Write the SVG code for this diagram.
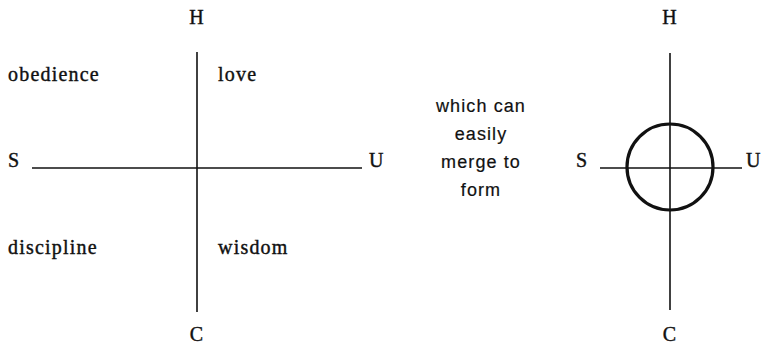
<svg xmlns="http://www.w3.org/2000/svg" width="769" height="350" viewBox="0 0 769 350">
<style>
.t{font-family:"Liberation Serif","Times New Roman",serif;font-size:20px;fill:#111;stroke:#111;stroke-width:0.4;letter-spacing:1.2px}
.m{font-family:"Liberation Sans",Arial,sans-serif;font-size:18px;fill:#111;stroke:#111;stroke-width:0.2;letter-spacing:1.1px}
.ax{stroke:#111;stroke-width:1.6;fill:none}
.c{stroke:#111;stroke-width:3.2;fill:none}
</style>
<rect width="769" height="350" fill="#fff"/>
<g id="connectors">
<line class="ax" x1="197" y1="52" x2="197" y2="312"/>
<line class="ax" x1="32" y1="168" x2="362" y2="168"/>
<line class="ax" x1="670" y1="53" x2="670" y2="310"/>
<line class="ax" x1="600" y1="168" x2="742" y2="168"/>
</g>
<g id="left-labels">
<text class="t" x="197" y="24" text-anchor="middle">H</text>
<text class="t" x="197" y="341" text-anchor="middle">C</text>
<text class="t" x="8" y="167">S</text>
<text class="t" x="369" y="167">U</text>
<text class="t" x="8" y="81">obedience</text>
<text class="t" x="218" y="81">love</text>
<text class="t" x="8" y="254">discipline</text>
<text class="t" x="218" y="254">wisdom</text>
</g>
<g id="merge-text">
<text class="m" text-anchor="middle"><tspan x="481" y="112">which can</tspan><tspan x="481" y="140">easily</tspan><tspan x="481" y="168">merge to</tspan><tspan x="481" y="196">form</tspan></text>
</g>
<g id="circle-node">
<circle class="c" cx="670" cy="167" r="43"/>
<text class="t" x="670" y="24" text-anchor="middle">H</text>
<text class="t" x="670" y="341" text-anchor="middle">C</text>
<text class="t" x="576" y="167">S</text>
<text class="t" x="746" y="167">U</text>
</g>
</svg>
